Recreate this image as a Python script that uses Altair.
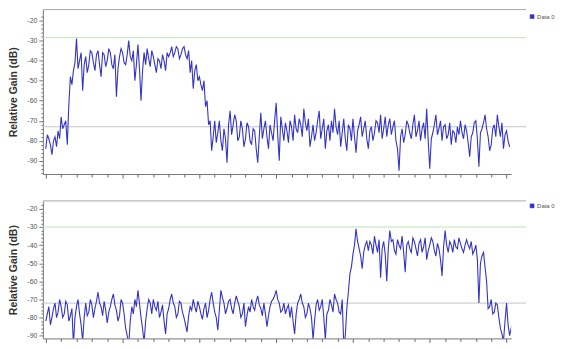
import altair as alt
import pandas as pd

# ---------------- data ----------------
STEP = 0.1  # sample spacing along the (unlabelled) x axis

top_gain = [
    -84, -77, -79, -82, -87, -80, -78, -83, -75, -79,
    -68, -74, -72, -70, -82, -62, -48, -52, -45, -41,
    -29, -44, -40, -36, -55, -42, -38, -46, -42, -35,
    -36, -41, -45, -37, -35, -42, -48, -36, -37, -43,
    -40, -34, -36, -42, -44, -37, -58, -44, -38, -34,
    -36, -41, -42, -37, -30, -38, -40, -35, -50, -42,
    -32, -44, -60, -45, -36, -42, -34, -39, -43, -35,
    -38, -42, -46, -39, -40, -44, -37, -40, -45, -36,
    -38, -36, -33, -38, -36, -33, -34, -39, -37, -34,
    -33, -37, -39, -35, -46, -40, -54, -45, -42, -50,
    -48, -52, -55, -50, -63, -60, -72, -70, -85, -78,
    -70, -81, -76, -70, -80, -85, -74, -79, -91, -72,
    -65, -77, -72, -67, -70, -80, -78, -70, -74, -83,
    -79, -71, -73, -80, -82, -74, -75, -84, -91, -78,
    -66, -79, -74, -70, -78, -84, -72, -76, -80, -70,
    -61, -77, -90, -68, -74, -80, -71, -75, -81, -70,
    -73, -80, -67, -74, -76, -69, -72, -78, -64, -71,
    -75, -69, -83, -78, -72, -80, -76, -70, -65, -79,
    -74, -69, -84, -75, -72, -80, -70, -76, -64, -73,
    -77, -70, -83, -76, -69, -79, -85, -72, -74, -80,
    -69, -78, -86, -75, -72, -68, -78, -74, -70, -79,
    -84, -75, -73, -80, -76, -70, -71, -76, -67, -79,
    -74, -68, -78, -72, -69, -77, -73, -70, -80, -84,
    -95, -78, -74, -81, -77, -70, -72, -76, -79, -72,
    -67, -78, -75, -70, -80, -74, -71, -79, -64, -80,
    -94, -79, -76, -72, -67, -77, -74, -70, -80, -73,
    -72, -79, -77, -71, -82, -75, -76, -81, -73, -77,
    -70, -76, -79, -72, -75, -81, -88, -78, -76, -71,
    -70, -79, -93, -76, -74, -71, -67, -74, -78, -85,
    -82, -74, -72, -78, -67, -73, -78, -71, -84, -77,
    -75, -80, -83,
]

bottom_gain = [
    -82, -78, -74, -84, -80, -75, -72, -80, -77, -70,
    -74, -80, -78, -71, -73, -82, -79, -75, -95, -80,
    -74, -70, -78, -84, -93, -80, -72, -79, -77, -70,
    -73, -80, -75, -71, -66, -72, -74, -79, -71, -76,
    -83, -77, -74, -70, -67, -73, -76, -82, -79, -70,
    -72, -78, -86, -90, -95, -82, -74, -78, -70, -74,
    -65, -72, -80, -86, -94, -82, -75, -70, -72, -78,
    -70, -74, -76, -71, -80, -77, -73, -82, -89, -78,
    -75, -70, -67, -72, -74, -80, -78, -71, -72, -77,
    -80, -84, -88, -79, -74, -76, -70, -74, -77, -71,
    -74, -78, -81, -75, -72, -80, -76, -70, -66, -72,
    -77, -80, -87, -76, -65, -69, -72, -78, -75, -71,
    -70, -75, -78, -72, -68, -71, -74, -80, -78, -72,
    -85, -79, -74, -77, -70, -74, -76, -71, -68, -73,
    -75, -79, -72, -78, -85, -79, -74, -71, -70, -68,
    -65, -70, -72, -77, -76, -72, -78, -75, -73, -80,
    -74, -82, -89, -78, -72, -70, -67, -72, -74, -80,
    -78, -72, -75, -80, -92, -82, -73, -70, -76, -74,
    -70, -80, -92, -78, -76, -70, -73, -77, -67, -70,
    -72, -77, -78, -70, -95, -90, -75, -66, -56, -52,
    -45, -40, -31, -38, -42, -46, -53, -44, -40, -38,
    -43, -38, -40, -45, -35, -40, -44, -37, -58, -42,
    -38, -45, -60, -42, -32, -38, -37, -43, -45, -37,
    -40, -42, -35, -44, -55, -40, -38, -42, -44, -36,
    -38, -42, -46, -39, -37, -44, -41, -36, -48, -43,
    -40, -36, -38, -43, -46, -39, -42, -48, -57, -41,
    -32, -40, -44, -38, -40, -44, -37, -41, -42, -36,
    -39, -42, -44, -40, -37, -40, -42, -38, -45, -43,
    -40, -48, -72, -50, -46, -44, -52, -60, -75, -74,
    -70, -78, -77, -72, -73, -80, -86, -89, -93, -82,
    -72, -84, -90, -86, -83,
]

series_name = "Data 0"
top_refs = {"green": -28.5, "gray": -73}
bottom_refs = {"green": -30, "gray": -72}
top_ydomain = [-96.6, -14.5]
bottom_ydomain = [-91.5, -15.6]
x_domain = [-0.19, 30.3]
x_ticks = list(range(0, 31))
y_ticks = list(range(-96, -17, 2))

LINE_BLUE = "#3434c4"
FONT = "Liberation Sans"
W = 470


def panel(gain, ydom, refs, h, lx, ly):
    df = pd.DataFrame({
        "f": [i * STEP for i in range(len(gain))],
        "g": gain,
        "s": [series_name] * len(gain),
    })
    xenc = alt.X(
        "f:Q",
        scale=alt.Scale(domain=x_domain, nice=False, zero=False),
        axis=alt.Axis(
            values=x_ticks, labels=False, grid=False, title=None,
            tickSize={"condition": {"test": "datum.value % 5 === 0", "value": 4}, "value": 3},
            tickColor="#666", domainColor="#777",
        ),
    )
    yenc = alt.Y(
        "g:Q",
        scale=alt.Scale(domain=ydom, nice=False, zero=False),
        axis=alt.Axis(
            values=[v for v in y_ticks if ydom[0] <= v <= ydom[1]],
            grid=False, title="Relative Gain (dB)",
            labelExpr="datum.value % 10 === 0 ? '' + datum.value : ''",
            tickSize={"condition": {"test": "datum.value % 10 === 0", "value": 4}, "value": 2},
            labelFontSize=7, labelColor="#555", labelFont=FONT, labelPadding=2,
            tickColor="#777", domainColor="#777",
            titleFont=FONT, titleFontSize=10.5, titleFontWeight="bold",
            titleColor="#333", titlePadding=8,
        ),
    )
    border = alt.Chart(pd.DataFrame({"g": [ydom[1]]})).mark_rule(
        color="#a8a8a8", strokeWidth=1
    ).encode(y=yenc, x=alt.value(0), x2=alt.value(485))
    green = alt.Chart(pd.DataFrame({"g": [refs["green"]]})).mark_rule(
        color="#bfe3b4", strokeWidth=1
    ).encode(y=yenc, x=alt.value(0), x2=alt.value(485))
    gray = alt.Chart(pd.DataFrame({"g": [refs["gray"]]})).mark_rule(
        color="#c4c4c4", strokeWidth=1
    ).encode(y=yenc, x=alt.value(0), x2=alt.value(485))
    line = alt.Chart(df).mark_line(strokeWidth=1.1, interpolate="linear", clip=True).encode(
        x=xenc,
        y=yenc,
        color=alt.Color(
            "s:N",
            scale=alt.Scale(range=[LINE_BLUE]),
            legend=alt.Legend(
                title=None, orient="none", legendX=lx, legendY=ly, padding=0,
                symbolType="square", symbolSize=16,
                symbolFillColor=LINE_BLUE, symbolStrokeColor=LINE_BLUE,
                symbolStrokeWidth=0.5,
                labelFontSize=6, labelColor="#555", labelFont=FONT,
                labelOffset=2,
            ),
        ),
    )
    return alt.layer(border, green, gray, line).properties(width=W, height=h)


top = panel(top_gain, top_ydomain, top_refs, 165, 488, 4)
bottom = panel(bottom_gain, bottom_ydomain, bottom_refs, 138, 488, 2)

chart = (
    alt.vconcat(top, bottom, spacing=21)
    .resolve_scale(color="independent", x="independent", y="independent")
    .resolve_legend(color="independent")
    .properties(padding=0, background="white")
    .configure_view(strokeOpacity=0)
)

chart.save("out.html", embed_options={"renderer": "svg", "actions": False})
